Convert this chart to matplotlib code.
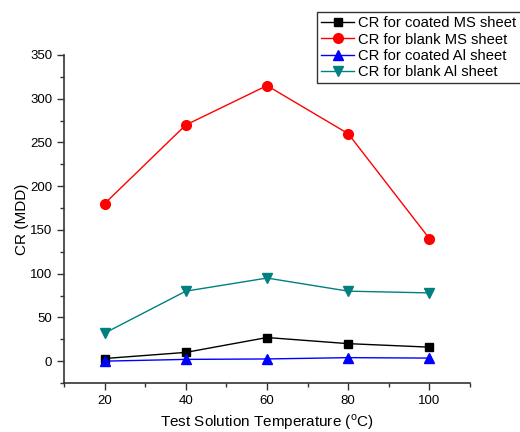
import matplotlib
matplotlib.use("Agg")
import matplotlib.pyplot as plt

plt.rcParams['font.family'] = ['Liberation Sans', 'DejaVu Sans']

temps = [20, 40, 60, 80, 100]
coated_ms = [3, 10, 27, 20, 16]
blank_ms = [180, 270, 315, 260, 140]
coated_al = [0, 2, 2.5, 4, 3.5]
blank_al = [32, 80, 95, 80, 78]

fig = plt.figure(figsize=(5.2, 4.32), dpi=100)
ax = fig.add_axes([0.123, 0.1134, 0.781, 0.7593])

l1, = ax.plot(temps, coated_ms, color='black', marker='s', markersize=6, linewidth=1, label='CR for coated MS sheet')
l2, = ax.plot(temps, blank_ms, color='red', marker='o', markersize=7, linewidth=1, label='CR for blank MS sheet')
l3, = ax.plot(temps, coated_al, color='blue', marker='^', markersize=7, linewidth=1, label='CR for coated Al sheet')
l4, = ax.plot(temps, blank_al, color='#008080', marker='v', markersize=7, linewidth=1, label='CR for blank Al sheet')

ax.set_xlim(10, 110)
ax.set_ylim(-25, 350)
ax.set_xticks([20, 40, 60, 80, 100])
ax.set_xticks(range(10, 111, 10), minor=True)
ax.set_yticks(range(0, 351, 50))
ax.set_yticks(range(-25, 351, 25), minor=True)
for s in ['top', 'right']:
    ax.spines[s].set_visible(False)
for s in ['left', 'bottom']:
    ax.spines[s].set_color('#333333')
    ax.spines[s].set_linewidth(1.2)
ax.tick_params(which='major', direction='out', length=5, width=1, labelsize=9.5, colors='#333333', labelcolor='black')
ax.tick_params(which='minor', direction='out', length=3, width=1, colors='#333333')

ax.set_xlabel('Test Solution Temperature ($^{\\mathregular{o}}$C)', fontsize=11)
ax.set_ylabel('CR (MDD)', fontsize=11, labelpad=1)

leg = fig.legend(handles=[l1, l2, l3, l4], loc='upper left', bbox_to_anchor=(317/520, 1 - 12/432),
                 fontsize=10.6, frameon=True, fancybox=False, edgecolor='black',
                 handlelength=2.2, handletextpad=0.3, borderpad=0.3, labelspacing=0.15, borderaxespad=0)
leg.get_frame().set_linewidth(1)

fig.savefig('out.png', dpi=100)
